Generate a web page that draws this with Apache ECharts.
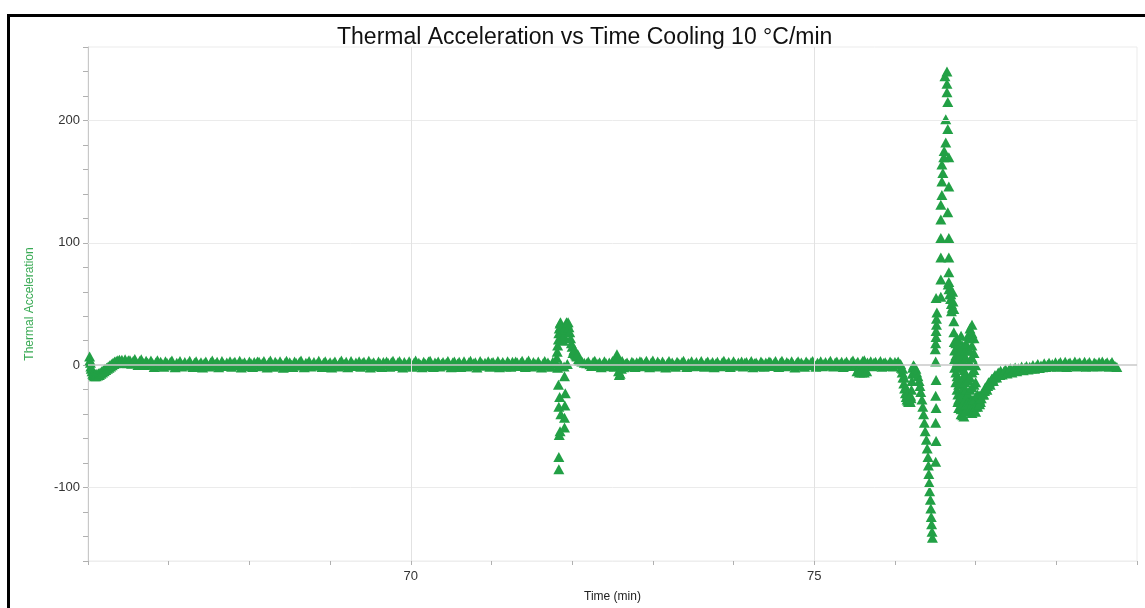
<!DOCTYPE html>
<html>
<head>
<meta charset="utf-8">
<title>Thermal Acceleration vs Time Cooling 10 °C/min</title>
<script src="https://cdn.jsdelivr.net/npm/echarts@6/dist/echarts.min.js"></script>
<style>
  html, body { margin: 0; padding: 0; background: #fff; }
  #chart { width: 1145px; height: 608px; }
</style>
</head>
<body>
<div id="chart"></div>
<script>
// Thermal acceleration samples, [time (min), acceleration], grouped by stretch of the run.

const leadIn = [
  [66.02,7],[66.025,4],[66.03,2],[66.035,-1],[66.04,-3],[66.05,-5],[66.06,-7],[66.07,-8],[66.08,-9],
  [66.09,-7.5],[66.10,-9],[66.11,-7],[66.12,-8.5],[66.13,-6.5],[66.14,-8],[66.15,-6],[66.16,-7],
  [66.17,-5],[66.18,-6],[66.19,-4],[66.20,-5],[66.21,-3],[66.22,-4],[66.23,-2],[66.24,-3],[66.25,-1],
  [66.26,-2],[66.27,0],[66.28,-1],[66.29,1],[66.30,0],[66.31,2],[66.32,1],[66.33,3],[66.34,1.5],
  [66.35,3.5],[66.36,2],[66.37,4],[66.38,2.5],[66.39,4.5],[66.40,2],[66.42,4.5],[66.44,2],[66.46,4.8],
  [66.48,1.5],[66.50,4]
];

const baselineEarly = [
  [66.52,4.0],[66.54,1.2],[66.56,3.4],[66.58,5.0],[66.60,1.9],[66.62,0.1],[66.64,3.5],[66.66,4.9],
  [66.68,2.0],[66.70,0.2],[66.72,3.6],[66.74,2.0],[66.76,0.3],[66.78,3.9],[66.80,1.5],[66.82,-1.4],
  [66.84,2.3],[66.86,4.0],[66.88,-0.2],[66.90,2.8],[66.92,0.7],[66.94,-1.3],[66.96,3.3],[66.98,1.8],
  [67.00,-0.1],[67.02,2.7],[67.04,3.8],[67.06,0.0],[67.08,-1.7],[67.10,2.0],[67.12,1.1],[67.14,3.4],
  [67.16,-1.0],[67.18,0.6],[67.20,2.7],[67.22,-0.5],[67.24,1.4],[67.26,3.7],[67.28,0.3],[67.30,-1.4],
  [67.32,1.9],[67.34,3.2],[67.36,-0.8],[67.38,0.8],[67.40,2.5],[67.42,-1.9],[67.44,1.5],[67.46,3.0],
  [67.48,0.1],[67.50,-1.1],[67.52,2.2],[67.54,3.9],[67.56,-0.3],[67.58,1.0],[67.60,2.8],[67.62,-1.6],
  [67.64,0.5],[67.66,3.5],[67.68,1.2],[67.70,-0.7],[67.72,2.3],[67.74,0.0],[67.76,3.3],[67.78,-1.3],
  [67.80,1.7],[67.82,2.9],[67.84,-0.1],[67.86,0.9],[67.88,3.6],[67.90,-1.8],[67.92,1.3],[67.94,2.4],
  [67.96,0.2],[67.98,-0.9],[68.00,3.1],[68.02,1.6],[68.04,-1.5],[68.06,2.6],[68.08,0.7],[68.10,3.0],
  [68.12,2.8],[68.14,-0.9],[68.16,1.6],[68.18,3.5],[68.20,0.2],[68.22,-1.8],[68.24,2.1],[68.26,3.9],
  [68.28,0.7],[68.30,-1.2],[68.32,2.9],[68.34,1.3],[68.36,-0.4],[68.38,3.3],[68.40,0.9],[68.42,-2.0],
  [68.44,1.8],[68.46,3.6],[68.48,-0.6],[68.50,2.4],[68.52,0.4],[68.54,-1.5],[68.56,3.1],[68.58,1.7],
  [68.60,-0.2],[68.62,2.6],[68.64,3.8],[68.66,0.0],[68.68,-1.7],[68.70,2.0],[68.72,1.1],[68.74,3.4],
  [68.76,-1.0],[68.78,0.6],[68.80,2.7],[68.82,-0.5],[68.84,1.4],[68.86,3.7],[68.88,0.3],[68.90,-1.4],
  [68.92,1.9],[68.94,3.2],[68.96,-0.8],[68.98,0.8],[69.00,2.5],[69.02,-1.9],[69.04,1.5],[69.06,3.0],
  [69.08,0.1],[69.10,-1.1],[69.12,2.2],[69.14,3.9],[69.16,-0.3],[69.18,1.0],[69.20,2.8],[69.22,-1.6],
  [69.24,0.5],[69.26,3.5],[69.28,1.2],[69.30,-0.7],[69.32,2.3],[69.34,0.0],[69.36,3.3],[69.38,-1.3],
  [69.40,1.7],[69.42,2.9],[69.44,-0.1],[69.46,0.9],[69.48,3.6],[69.50,-1.8],[69.52,1.3],[69.54,2.4],
  [69.56,0.2],[69.58,-0.9],[69.60,3.1],[69.62,1.6],[69.64,-1.5],[69.66,2.6],[69.68,0.7],[69.70,3.0],
  [69.72,1.8],[69.74,-1.2],[69.76,2.5],[69.78,3.7],[69.80,0.4],[69.82,-0.6],[69.84,2.2],[69.86,3.4],
  [69.88,1.0],[69.90,-1.9],[69.92,2.7],[69.94,0.8],[69.96,-0.5],[69.98,3.2],[70.00,1.4],[70.02,-1.3],
  [70.04,2.0],[70.06,3.8],[70.08,-0.2],[70.10,1.9],[70.12,0.5],[70.14,-1.6],[70.16,2.8],[70.18,1.2],
  [70.20,-0.8],[70.22,3.0],[70.24,3.6],[70.26,0.1],[70.28,-1.4],[70.30,2.3],[70.32,0.9],[70.34,3.1],
  [70.36,-1.1],[70.38,1.1],[70.40,2.6],[70.42,-0.3],[70.44,1.7],[70.46,3.5],[70.48,0.6],[70.50,-1.7],
  [70.52,2.1],[70.54,3.0],[70.56,-0.6],[70.58,1.3],[70.60,2.9],[70.62,-1.5],[70.64,0.8],[70.66,3.3],
  [70.68,0.2],[70.70,-1.0],[70.72,2.4],[70.74,3.7],[70.76,-0.1],[70.78,1.5],[70.80,2.5],[70.82,-1.8],
  [70.84,0.3],[70.86,3.4],[70.88,1.6],[70.90,-0.4],[70.92,2.0],[70.94,0.1],[70.96,3.2],[70.98,-1.2],
  [71.00,1.9],[71.02,2.7],[71.04,-0.7],[71.06,1.2],[71.08,3.5],[71.10,-1.6],[71.12,1.0],[71.14,2.6],
  [71.16,0.4],[71.18,-1.0],[71.20,3.3],[71.22,1.4],[71.24,-1.3],[71.26,2.9],[71.28,0.5],[71.30,3.1],
  [71.32,2.2],[71.34,-0.6],[71.36,1.8],[71.38,3.6],[71.40,0.0],[71.42,-1.5],[71.44,2.5],[71.46,3.8],
  [71.48,0.9],[71.50,-1.0],[71.52,2.7],[71.54,1.1],[71.56,-0.2],[71.58,3.0],[71.60,0.6],[71.62,-1.8],
  [71.64,1.6],[71.66,3.4],[71.68,-0.4],[71.70,2.2],[71.72,0.2],[71.74,-1.2],[71.76,2.8],[71.78,1.5]
];

// first event near 71.9 min: twin positive peaks with scattered negative excursions
const firstEvent = [
  [71.80,2],[71.81,6],[71.815,11],[71.82,16],[71.83,21],[71.835,26],[71.84,30],[71.85,34],
  [71.855,35],[71.86,32],[71.87,27],[71.88,23],[71.89,20],[71.90,24],[71.91,29],[71.92,32],
  [71.93,35],[71.94,34],[71.95,35],[71.96,31],[71.97,27],[71.98,22],[71.99,18],[72.00,15],
  [72.02,12],[72.04,9],[72.06,7],[72.08,5],[72.10,4],[72.12,3],[72.15,2],[72.18,1.5],
  [71.82,-2],[71.86,0],[71.90,-1],[71.94,1],[72.01,10],[72.03,13],[72.05,8],[72.07,9],[72.09,4],
  [71.83,-16],[71.845,-26],[71.835,-34],[71.86,-40],[71.85,-54],[71.84,-57],[71.835,-75],[71.835,-85],
  [71.905,-9],[71.915,-23],[71.91,-33],[71.905,-43],[71.905,-51]
];

const baselineMid = [
  [72.20,3.0],[72.22,0.8],[72.24,-0.7],[72.26,2.6],[72.28,3.6],[72.30,-0.3],[72.32,1.1],[72.34,2.4],
  [72.36,-1.6],[72.38,0.7],[72.40,3.3],[72.42,1.5],[72.44,-0.9],[72.46,2.1],[72.48,0.2],[72.50,3.5],
  [72.52,-1.2],[72.54,1.6],[72.56,2.8],[72.58,-0.2],[72.60,0.6],[72.62,3.4],[72.64,-1.7],[72.66,1.2],
  [72.68,2.3],[72.70,0.4],[72.72,-1.0],[72.74,2.9],[72.76,1.8],[72.78,-1.4],[72.80,2.5],[72.82,0.9],
  [72.84,3.2],[72.86,2.6],[72.88,-0.8],[72.90,1.4],[72.92,3.7],[72.94,0.0],[72.96,-1.6],[72.98,2.3],
  [73.00,3.8],[73.02,0.5],[73.04,-1.0],[73.06,3.0],[73.08,1.1],[73.10,-0.6],[73.12,3.1],[73.14,0.7],
  [73.16,-1.9],[73.18,1.6],[73.20,3.4],[73.22,-0.4],[73.24,2.2],[73.26,0.3],[73.28,-1.3],[73.30,2.9],
  [73.32,1.5],[73.34,-0.1],[73.36,2.4],[73.38,3.6],[73.40,0.1],[73.42,-1.5],[73.44,1.8],[73.46,1.0],
  [73.48,3.2],[73.50,-0.9],[73.52,0.8],[73.54,2.6],[73.56,-0.7],[73.58,1.2],[73.60,3.5],[73.62,0.5],
  [73.64,-1.2],[73.66,2.0],[73.68,3.0],[73.70,-0.6],[73.72,1.0],[73.74,2.7],[73.76,-1.7],[73.78,1.3],
  [73.80,2.8],[73.82,0.3],[73.84,-0.9],[73.86,2.4],[73.88,3.7],[73.90,-0.2],[73.92,1.2],[73.94,2.6],
  [73.96,-1.4],[73.98,0.7],[74.00,3.3],[74.02,1.0],[74.04,-0.5],[74.06,2.1],[74.08,0.2],[74.10,3.1],
  [74.12,-1.1],[74.14,1.9],[74.16,2.7],[74.18,0.1],[74.20,1.1],[74.22,3.4],[74.24,-1.6],[74.26,1.5],
  [74.28,2.2],[74.30,0.6],[74.32,-0.8],[74.34,3.0],[74.36,1.6],[74.38,-1.3],[74.40,2.3],[74.42,1.0],
  [74.44,3.0],[74.46,2.5],[74.48,-0.6],[74.50,1.3],[74.52,3.5],[74.54,0.2],[74.56,-1.4],[74.58,2.1],
  [74.60,3.6],[74.62,0.7],[74.64,-0.8],[74.66,2.7],[74.68,1.4],[74.70,-0.3],[74.72,3.2],[74.74,0.8],
  [74.76,-1.8],[74.78,1.7],[74.80,3.3],[74.82,-0.5],[74.84,2.3],[74.86,0.5],[74.88,-1.2],[74.90,3.0],
  [74.92,1.6],[74.94,0.0],[74.96,2.5],[74.98,3.4],[75.00,0.3],[75.02,-1.3],[75.04,1.9],[75.06,1.2],
  [75.08,3.3],[75.10,-0.8],[75.12,0.9],[75.14,2.7],[75.16,-0.4],[75.18,1.5],[75.20,3.6],[75.22,0.4],
  [75.24,-1.0],[75.26,2.2],[75.28,3.1],[75.30,-0.5],[75.32,1.2],[75.34,2.9],[75.36,-1.5],[75.38,1.5],
  [75.40,3.0],[75.42,0.5],[75.44,-0.7],[75.46,2.6],[75.48,3.8],[75.50,0.0],[75.52,1.4],[75.54,2.8],
  [75.56,-1.2],[75.58,0.9],[75.60,3.4],[75.62,1.3],[75.64,-0.3],[75.66,2.3],[75.68,0.4],[75.70,3.3],
  [75.72,-0.9],[75.74,2.0],[75.76,2.8],[75.78,0.2],[75.80,1.3],[75.82,3.5],[75.84,-1.3],[75.86,1.7],
  [75.88,2.4],[75.90,0.8],[75.92,-0.6],[75.94,3.1],[75.96,1.8],[75.98,-1.0],[76.00,2.6],[76.02,1.1],
  [76.04,3.0],[76.06,0.5]
];

// short blips at 72.56 and 75.6 min
const smallBlips = [
  [72.53,3],[72.545,6],[72.555,9],[72.565,6],[72.575,-5],[72.585,-8],[72.595,-7],[72.61,-3],
  [75.53,-5],[75.56,-6],[75.59,-6],[75.62,-6],[75.65,-5],[75.62,4]
];

// main event near 76.5 min: notch, deep dip, sharp peak and ringing
const mainEvent = [
  [76.07,1],[76.08,-2],[76.09,-6],[76.10,-10],[76.11,-15],[76.12,-19],[76.13,-23],[76.14,-26],
  [76.15,-28],[76.16,-29],[76.17,-30],[76.18,-29],[76.19,-30],[76.20,-27],[76.205,-20],[76.21,-13],
  [76.215,-7],[76.22,-2],[76.23,0],[76.24,-1],
  [76.095,-3],[76.115,-10],[76.135,-18],[76.155,-24],[76.175,-26],[76.195,-25],
  [76.26,-3],[76.27,-6],[76.285,-9],[76.30,-13],[76.31,-17],[76.32,-22],[76.335,-28],[76.345,-34],
  [76.355,-40],[76.365,-47],[76.375,-54],[76.39,-61],[76.40,-68],[76.41,-75],[76.415,-82],
  [76.42,-89],[76.425,-96],[76.43,-103],[76.44,-110],[76.445,-117],[76.45,-124],[76.455,-130],
  [76.46,-136],[76.465,-141],
  [76.505,-79],[76.51,-62],[76.505,-47],[76.51,-35],[76.505,-25],[76.51,-12],[76.505,3],
  [76.50,13],[76.505,18],[76.51,23],[76.51,28],[76.515,33],[76.515,38],[76.52,43],[76.51,55],
  [76.569,56],[76.569,70],[76.569,88],[76.569,104],[76.569,119],[76.569,131],[76.582,139],
  [76.582,150],[76.594,157],[76.582,164],[76.605,170],[76.61,175],[76.63,182],[76.63,201],
  [76.62,236],[76.645,240],[76.645,230],[76.645,223],
  [76.655,215],[76.655,193],[76.668,170],[76.668,146],[76.655,125],[76.668,104],[76.668,88],
  [76.668,76],[76.668,68],[76.693,58],
  [76.66,66],[76.67,62],[76.68,58],[76.69,54],[76.70,50],[76.71,47],[76.70,44],[76.72,52],
  [76.73,46],[76.715,60],
  [76.73,36],[76.73,27],[76.735,19],
  [76.74,12],[76.74,5],[76.74,-2],
  [76.755,18],[76.755,8],[76.755,-6],[76.755,-14],
  [76.77,22],[76.77,14],[76.77,2],[76.77,-9],[76.77,-20],
  [76.78,15],[76.78,4],[76.78,-12],[76.78,-24],[76.78,-30],
  [76.79,20],[76.79,10],[76.79,-2],[76.79,-16],[76.79,-28],[76.79,-35],
  [76.82,24],[76.82,12],[76.82,0],[76.82,-14],[76.82,-26],[76.82,-36],[76.82,-40],
  [76.84,16],[76.84,4],[76.84,-10],[76.84,-22],[76.84,-33],[76.84,-41],
  [76.855,8],[76.855,-4],[76.855,-18],[76.855,-30],[76.855,-42],
  [76.87,12],[76.87,0],[76.87,-14],[76.87,-28],[76.87,-38],
  [76.88,18],[76.88,6],[76.88,-8],[76.88,-20],[76.88,-32],
  [76.905,24],[76.905,12],[76.905,0],[76.905,-12],[76.905,-24],[76.905,-30],
  [76.93,30],[76.93,22],[76.93,12],[76.93,2],[76.93,-10],[76.93,-20],[76.93,-30],[76.93,-35],
  [76.955,33],[76.955,26],[76.955,16],[76.955,6],[76.955,-6],[76.955,-18],[76.955,-28],[76.955,-36],[76.955,-39],
  [76.98,22],[76.98,10],[76.98,-4],[76.98,-16],[76.98,-28],[76.98,-37],
  [77.00,0],[77.00,-14],[77.00,-26],[77.00,-34],[77.00,-38],
  [77.025,-24],[77.025,-30],[77.025,-34],
  [77.05,-32],[77.05,-28],[77.05,-25],
  [77.06,-30],[77.07,-27],[77.08,-23],[77.09,-24],[77.10,-24],[77.11,-21],[77.12,-18],[77.13,-19],
  [77.14,-20],[77.15,-17],[77.16,-14],[77.17,-14],[77.18,-16],[77.19,-13],[77.20,-11],[77.21,-11],
  [77.22,-13],[77.23,-10],[77.24,-8],[77.25,-9],[77.26,-10],[77.27,-8],[77.28,-6],[77.29,-7],[77.30,-8]
];

const tail = [
  [77.31,-4.5],[77.33,-7.6],[77.35,-5.2],[77.37,-3.4],[77.39,-6.8],[77.41,-4.0],[77.43,-2.6],[77.45,-5.9],
  [77.47,-3.1],[77.49,-1.8],[77.51,-4.9],[77.53,-2.4],[77.55,-3.8],[77.57,-1.1],[77.59,-4.2],[77.61,-2.0],
  [77.63,-0.6],[77.65,-3.5],[77.67,-1.2],[77.69,-2.7],[77.71,0.2],[77.73,-2.9],[77.75,-0.9],[77.77,1.0],
  [77.79,-2.2],[77.81,-0.2],[77.83,-1.6],[77.85,1.5],[77.87,-1.5],[77.89,0.4],[77.91,2.0],[77.93,-1.1],
  [77.95,0.9],[77.97,-0.6],[77.99,2.4],[78.01,-1.3],[78.03,1.1],[78.05,2.6],[78.07,-0.8],[78.09,0.5],
  [78.11,2.9],[78.13,-1.4],[78.15,1.3],[78.17,2.2],[78.19,-0.3],[78.21,0.8],[78.23,3.0],[78.25,-1.0],
  [78.27,1.6],[78.29,2.5],[78.31,-0.5],[78.33,0.3],[78.35,2.8],[78.37,-1.2],[78.39,1.0],[78.41,2.7],
  [78.43,0.0],[78.45,-0.9],[78.47,2.3],[78.49,1.4],[78.51,-1.1],[78.53,2.6],[78.55,0.6],[78.57,3.1],
  [78.59,-0.7],[78.61,1.2],[78.63,2.4],[78.65,-1.3],[78.67,0.9],[78.69,2.7],[78.71,0.1],[78.73,-0.8],
  [78.75,-1.5]
];

const xTickLabels = [70, 75];
const yTickLabels = [200, 100, 0, -100];

const samples = [].concat(leadIn, baselineEarly, firstEvent, baselineMid, smallBlips, mainEvent, tail);

const chart = echarts.init(document.getElementById('chart'), null, { renderer: 'canvas' });

const gridLineColor = '#ebebeb';
const fontFamily = 'Liberation Sans, Arial, sans-serif';

chart.setOption({
  animation: false,
  backgroundColor: '#ffffff',
  title: {
    text: 'Thermal Acceleration vs Time Cooling 10 °C/min',
    left: 332,
    top: 21,
    textStyle: { fontFamily, fontSize: 23, fontWeight: 'normal', color: '#111' }
  },
  graphic: [{
    type: 'rect',
    silent: true,
    shape: { x: 8.5, y: 15.5, width: 1200, height: 700 },
    style: { fill: 'none', stroke: '#000', lineWidth: 3 }
  }],
  grid: {
    left: 88,
    right: 8,
    top: 47,
    bottom: 47,
    containLabel: false,
    outerBoundsMode: 'none',
    show: true,
    borderColor: gridLineColor,
    borderWidth: 1
  },
  xAxis: {
    type: 'value',
    min: 66,
    max: 79,
    interval: 1,
    name: 'Time (min)',
    nameLocation: 'middle',
    nameGap: 30,
    nameTextStyle: { fontFamily, fontSize: 12, color: '#222' },
    axisLine: { onZero: false, lineStyle: { color: '#eeeeee' } },
    axisTick: { length: 4, lineStyle: { color: '#b0b0b0' } },
    axisLabel: {
      margin: 9,
      fontFamily,
      fontSize: 13,
      color: '#333',
      formatter: v => (xTickLabels.indexOf(v) >= 0 ? String(v) : '')
    },
    splitLine: { show: false }
  },
  yAxis: {
    type: 'value',
    min: -160,
    max: 260,
    interval: 20,
    name: 'Thermal Acceleration',
    nameLocation: 'middle',
    nameGap: 52,
    nameTextStyle: { fontFamily, fontSize: 12, color: '#3aaa55' },
    axisLine: { show: true, onZero: false, lineStyle: { color: '#c8c8c8' } },
    axisTick: { show: true, length: 5, lineStyle: { color: '#b0b0b0' } },
    axisLabel: {
      margin: 8,
      fontFamily,
      fontSize: 13,
      color: '#333',
      formatter: v => (yTickLabels.indexOf(v) >= 0 ? String(v) : '')
    },
    splitLine: { show: false }
  },
  series: [
    {
      // reference grid lines drawn beneath the samples
      type: 'line',
      data: [],
      z: 1,
      silent: true,
      markLine: {
        silent: true,
        symbol: 'none',
        label: { show: false },
        data: [
          ...yTickLabels.map(v => ({
            yAxis: v,
            lineStyle: { color: v === 0 ? '#c8c8c8' : gridLineColor, width: v === 0 ? 1.5 : 1, type: 'solid' }
          })),
          ...xTickLabels.map(v => ({
            xAxis: v,
            lineStyle: { color: '#e2e2e2', width: 1, type: 'solid' }
          }))
        ]
      }
    },
    {
      name: 'Thermal Acceleration',
      type: 'scatter',
      z: 3,
      symbol: 'triangle',
      symbolSize: [11, 10],
      itemStyle: { color: '#22a045', opacity: 1 },
      data: samples
    }
  ]
});
</script>
</body>
</html>
